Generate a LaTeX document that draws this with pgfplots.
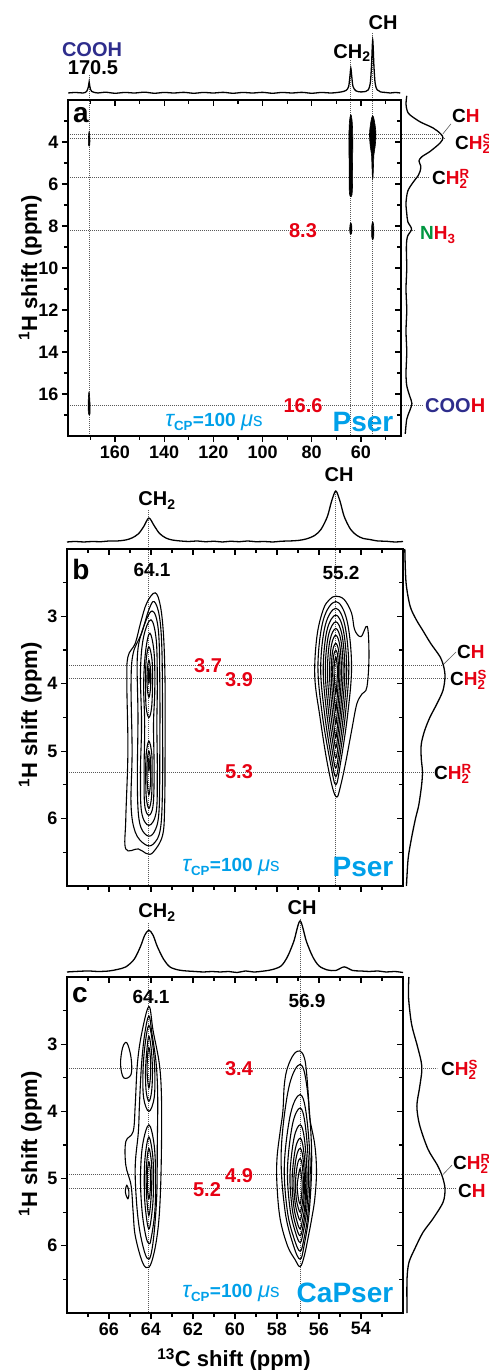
\documentclass[border=0pt]{standalone}
\usepackage{fontspec}
\setmainfont{Liberation Sans}
\usepackage{pgfplots}
\pgfplotsset{compat=1.18}

\definecolor{cred}{RGB}{230,0,18}
\definecolor{cnavy}{RGB}{46,45,140}
\definecolor{cgreen}{RGB}{0,150,64}
\definecolor{cblue}{RGB}{0,160,233}

\newcommand{\fa}{\fontsize{20}{22}\selectfont\bfseries}
\newcommand{\fn}{\fontsize{19}{21}\selectfont\bfseries}
\newcommand{\fbig}{\fontsize{28}{30}\selectfont\bfseries}
\newcommand{\fl}{\fontsize{22}{24}\selectfont\bfseries}
\newcommand{\R}[1]{\textcolor{cred}{#1}}
\newcommand{\tcp}{{\fontsize{23}{23}\selectfont\itshape\mdseries τ}\textsubscript{CP}=100 {\fontsize{22}{22}\selectfont\itshape\mdseries μ}{\mdseries s}}

\tikzset{guide/.style={black!65, line width=0.8pt, dash pattern=on 1pt off 1pt}}
\pgfplotsset{
  mainax/.style={anchor=south west, scale only axis, x dir=reverse, y dir=reverse, clip=false,
    axis line style={line width=1.5pt}, tick style={black, line width=1.2pt},
    major tick length=6pt, minor tick length=4pt,
    tick align=outside, xtick pos=left, ytick pos=left,
    ticklabel style={font=\fontsize{18}{18}\selectfont\bfseries},
    /pgf/number format/assume math mode=true},
  overax/.style={anchor=south west, scale only axis, x dir=reverse, y dir=reverse,
    axis line style={line width=1.5pt}, tick style={black, line width=1.2pt},
    major tick length=6pt, minor tick length=4pt,
    tick align=inside, xtick pos=right, ytick pos=right, xticklabels={}, yticklabels={}},
  projax/.style={anchor=south west, scale only axis, hide axis, clip=false},
  proj/.style={black, line width=1.3pt, smooth, tension=0.5},
  cont/.style={black, line width=1.1pt, smooth cycle, tension=0.6},
  blob/.style={black, fill=black, line width=0.6pt, smooth cycle, tension=0.6},
}

\begin{document}
\begin{tikzpicture}
\path[use as bounding box] (0,0) rectangle (489pt,1370pt);

% ================= panel a =================
\begin{axis}[mainax, at={(68pt,934pt)}, width=333pt, height=336pt,
  xmin=43.7, xmax=179.1, ymin=2, ymax=18,
  xtick={60,80,...,160}, minor xtick={50,70,...,170},
  ytick={4,6,...,16}, minor ytick={3,5,...,17}]
\draw[guide] (axis cs:170.5,0.81) -- (axis cs:170.5,18);
\draw[guide] (axis cs:64.1,0.1) -- (axis cs:64.1,18);
\draw[guide] (axis cs:55.2,-1.2) -- (axis cs:55.2,18);
\draw[guide] (axis cs:179.1,3.62) -- (axis cs:27.9,3.62);
\draw[guide] (axis cs:179.1,3.85) -- (axis cs:25.9,3.85);
\draw[guide] (axis cs:179.1,5.71) -- (axis cs:32,5.71);
\draw[guide] (axis cs:179.1,8.19) -- (axis cs:38,8.19);
\draw[guide] (axis cs:179.1,16.52) -- (axis cs:34.8,16.52);
\draw[black!65, line width=0.6pt] (axis cs:26.7,3.62) -- (axis cs:23.4,3.14);
\addplot[blob] coordinates {(64.1,2.7) (63.5,3.1) (63.3,4.0) (63.4,5.0) (63.4,6.0) (63.6,6.5) (64.1,6.6) (64.6,6.5) (64.8,6.0) (64.8,5.0) (64.9,4.0) (64.7,3.1)};
\addplot[blob] coordinates {(55.2,2.75) (54.5,3.0) (53.9,3.6) (54.2,4.2) (54.7,4.6) (54.9,5.2) (55.1,5.7) (55.3,5.7) (55.5,5.2) (55.7,4.6) (56.2,4.2) (56.5,3.6) (55.9,3.0)};
\addplot[blob] coordinates {(64.1,7.85) (63.7,8.0) (63.7,8.3) (64.1,8.4) (64.5,8.3) (64.5,8.0)};
\addplot[blob] coordinates {(55.2,7.8) (54.8,8.0) (54.8,8.5) (55.2,8.65) (55.6,8.5) (55.6,8.0)};
\addplot[blob] coordinates {(170.5,3.5) (170.2,3.8) (170.2,4.1) (170.5,4.2) (170.8,4.1) (170.8,3.8)};
\addplot[blob] coordinates {(170.5,15.9) (170.2,16.3) (170.1,16.8) (170.3,17.0) (170.8,16.9) (170.9,16.4) (170.7,16.0)};
\end{axis}
\begin{axis}[overax, at={(68pt,934pt)}, width=333pt, height=336pt,
  xmin=43.7, xmax=179.1, ymin=2, ymax=18,
  xtick={60,80,...,160}, minor xtick={50,70,...,170},
  ytick={4,6,...,16}, minor ytick={3,5,...,17}]
\end{axis}
\begin{axis}[projax, at={(68pt,1277pt)}, width=333pt, height=53pt,
  xmin=43.7, xmax=179.1, x dir=reverse, ymin=0, ymax=1]
\addplot[proj] coordinates {(179,0.0) (176,0.01) (173,0.0) (171.5,0.03) (170.8,0.12) (170.5,0.21) (170.2,0.12) (169.5,0.03) (167,0.0) (164,0.015) (160,-0.005) (156,0.01) (152,0.0) (148,0.015) (144,-0.005) (140,0.01) (136,0.0) (132,0.012) (128,-0.005) (124,0.01) (120,0.0) (116,0.012) (112,-0.005) (108,0.01) (104,0.0) (100,0.012) (96,-0.005) (92,0.01) (88,0.0) (84,0.012) (80,-0.005) (76,0.01) (72,0.0) (68,0.02) (66,0.05) (65,0.12) (64.5,0.3) (64.1,0.47) (63.7,0.3) (63.2,0.12) (62,0.04) (60,0.02) (58,0.03) (57,0.06) (56.2,0.18) (55.7,0.5) (55.2,1.0) (54.7,0.5) (54.2,0.18) (53.4,0.06) (52,0.02) (50,0.01) (48,0.0) (46,0.01) (44,0.0)};
\end{axis}
\begin{axis}[projax, at={(406pt,934pt)}, width=37pt, height=336pt,
  xmin=0, xmax=1, ymin=2, ymax=18, y dir=reverse]
\addplot[proj] coordinates {(0.02,1.8) (0.0,2.2) (0.03,2.5) (0.1,2.7) (0.38,3.04) (0.73,3.33) (0.93,3.6) (1.0,3.8) (0.92,4.05) (0.65,4.45) (0.43,4.7) (0.35,4.9) (0.4,5.15) (0.38,5.4) (0.33,5.6) (0.2,5.9) (0.05,6.33) (0.0,6.9) (0.02,7.4) (0.05,7.8) (0.15,8.15) (0.04,8.5) (0.01,9.0) (0.02,10) (0.0,11) (0.02,12) (0.0,13) (0.02,14) (0.0,15) (0.02,15.6) (0.1,16.1) (0.16,16.45) (0.1,16.8) (0.02,17.2) (-0.02,17.9)};
\end{axis}

% ================= panel b =================
\begin{axis}[mainax, at={(67pt,484pt)}, width=336pt, height=337pt,
  xmin=52, xmax=68, ymin=2, ymax=7, xticklabels={},
  xtick={54,56,...,66}, minor xtick={53,55,...,67},
  ytick={3,4,5,6}, minor ytick={2.5,3.5,...,6.5}]
\draw[guide] (axis cs:64.1,1.42) -- (axis cs:64.1,7);
\draw[guide] (axis cs:55.2,1.15) -- (axis cs:55.2,7);
\draw[guide] (axis cs:68,3.72) -- (axis cs:50.1,3.72);
\draw[guide] (axis cs:68,3.92) -- (axis cs:49.86,3.92);
\draw[guide] (axis cs:68,5.31) -- (axis cs:50.57,5.31);
\draw[black!65, line width=0.6pt] (axis cs:50.1,3.72) -- (axis cs:49.48,3.53);
% CH2
\addplot[cont] coordinates {(63.8,2.65) (63.55,2.85) (63.4,3.3) (63.33,4.0) (63.33,5.0) (63.35,5.8) (63.45,6.25) (63.9,6.5) (64.2,6.52) (64.6,6.45) (65.2,6.45) (65.2,6.0) (65.1,5.0) (65.15,4.0) (65.1,3.6) (64.75,3.4) (64.5,3.1) (64.2,2.8)};
\addplot[cont] coordinates {(63.85,2.78) (63.6,3.0) (63.48,3.5) (63.45,4.5) (63.45,5.5) (63.55,6.15) (63.9,6.38) (64.3,6.38) (64.75,6.2) (64.95,5.8) (64.9,5.0) (64.95,4.0) (64.85,3.55) (64.45,3.25) (64.1,2.9)};
\addplot[cont] coordinates {(63.95,2.92) (63.65,3.2) (63.58,4.0) (63.58,5.0) (63.62,5.9) (63.85,6.2) (64.2,6.25) (64.55,6.05) (64.65,5.5) (64.62,4.5) (64.65,3.6) (64.4,3.2)};
\addplot[cont] coordinates {(64.0,3.05) (63.75,3.35) (63.7,4.0) (63.72,4.6) (63.7,5.3) (63.75,5.9) (64.1,6.1) (64.45,5.9) (64.5,5.3) (64.45,4.6) (64.5,3.8) (64.35,3.3)};
\addplot[cont] coordinates {(64.05,3.25) (63.85,3.55) (63.82,4.1) (63.88,4.6) (63.85,5.3) (63.9,5.8) (64.1,5.95) (64.3,5.8) (64.33,5.3) (64.3,4.6) (64.35,4.0) (64.25,3.5)};
\addplot[cont] coordinates {(64.1,3.45) (63.95,3.65) (63.93,4.0) (63.97,4.35) (64.1,4.5) (64.23,4.35) (64.26,4.0) (64.23,3.65)};
\addplot[cont] coordinates {(64.1,3.65) (64.02,3.8) (64.02,4.05) (64.1,4.2) (64.18,4.05) (64.18,3.8)};
\addplot[blob] coordinates {(64.1,3.76) (64.05,3.88) (64.1,4.0) (64.15,3.88)};
\addplot[cont] coordinates {(64.1,4.85) (63.96,5.05) (63.95,5.4) (63.98,5.7) (64.1,5.85) (64.22,5.7) (64.25,5.4) (64.23,5.05)};
\addplot[cont] coordinates {(64.1,5.0) (64.02,5.15) (64.02,5.45) (64.1,5.65) (64.18,5.45) (64.18,5.15)};
\addplot[blob] coordinates {(64.1,5.1) (64.06,5.2) (64.1,5.3) (64.14,5.2)};
% CH
\addplot[cont] coordinates {(55.2,2.7) (54.8,2.75) (54.45,2.95) (54.3,3.2) (54.0,3.3) (53.7,3.15) (53.62,3.6) (53.72,4.05) (53.95,4.15) (54.2,4.3) (54.45,4.7) (54.75,5.2) (55.0,5.55) (55.15,5.68) (55.35,5.55) (55.65,5.1) (55.95,4.5) (56.2,3.9) (56.1,3.3) (55.8,2.9) (55.5,2.75)};
\addplot[cont] coordinates {(55.2,2.78) (54.675,3.052) (54.45,3.732) (54.64,4.466) (54.975,5.174) (55.2,5.5) (55.455,5.174) (55.84,4.466) (56.05,3.732) (55.795,3.052)};
\addplot[cont] coordinates {(55.2,2.88) (54.77,3.13) (54.58,3.755) (54.735,4.43) (55.01,5.08) (55.2,5.38) (55.42,5.08) (55.74,4.43) (55.92,3.755) (55.70,3.13)};
\addplot[cont] coordinates {(55.2,2.98) (54.84,3.207) (54.68,3.775) (54.81,4.387) (55.04,4.978) (55.2,5.25) (55.38,4.978) (55.65,4.387) (55.8,3.775) (55.62,3.207)};
\addplot[cont] coordinates {(55.2,3.08) (54.9,3.282) (54.77,3.787) (54.88,4.332) (55.07,4.858) (55.2,5.1) (55.35,4.858) (55.575,4.332) (55.7,3.787) (55.55,3.282)};
\addplot[cont] coordinates {(55.2,3.18) (54.955,3.357) (54.85,3.80) (54.94,4.277) (55.095,4.738) (55.2,4.95) (55.32,4.738) (55.5,4.277) (55.6,3.80) (55.48,3.357)};
\addplot[cont] coordinates {(55.2,3.28) (55.01,3.432) (54.93,3.812) (55.0,4.222) (55.12,4.618) (55.2,4.8) (55.29,4.618) (55.425,4.222) (55.5,3.812) (55.41,3.432)};
\addplot[cont] coordinates {(55.2,3.4) (55.06,3.52) (55.0,3.82) (55.05,4.144) (55.14,4.456) (55.2,4.6) (55.266,4.456) (55.365,4.144) (55.42,3.82) (55.354,3.52)};
\addplot[cont] coordinates {(55.2,3.5) (55.109,3.59) (55.07,3.815) (55.1,4.058) (55.16,4.292) (55.2,4.4) (55.245,4.292) (55.31,4.058) (55.35,3.815) (55.305,3.59)};
\addplot[cont] coordinates {(55.2,3.6) (55.13,3.75) (55.14,3.95) (55.2,4.15) (55.26,3.95) (55.28,3.75)};
\end{axis}
\begin{axis}[overax, at={(67pt,484pt)}, width=336pt, height=337pt,
  xmin=52, xmax=68, ymin=2, ymax=7,
  xtick={54,56,...,66}, minor xtick={53,55,...,67},
  ytick={3,4,5,6}, minor ytick={2.5,3.5,...,6.5}]
\end{axis}
\begin{axis}[projax, at={(67pt,828pt)}, width=336pt, height=51pt,
  xmin=52, xmax=68, x dir=reverse, ymin=0, ymax=1]
\addplot[proj] coordinates {(68,0.0) (67.6,0.01) (67.2,0.0) (66.8,0.01) (66.4,0.005) (66,0.02) (65.6,0.02) (65.2,0.04) (64.9,0.08) (64.6,0.16) (64.35,0.3) (64.1,0.47) (63.85,0.32) (63.6,0.17) (63.3,0.08) (63,0.04) (62.6,0.02) (62.2,0.01) (61.8,0.02) (61.4,0.005) (61,0.015) (60.6,0.0) (60.2,0.015) (59.8,0.005) (59.4,0.02) (59,0.005) (58.6,0.01) (58.2,0.0) (57.8,0.015) (57.4,0.02) (57,0.03) (56.6,0.06) (56.2,0.13) (55.9,0.25) (55.6,0.5) (55.4,0.8) (55.2,1.0) (55.0,0.8) (54.8,0.5) (54.5,0.25) (54.2,0.13) (53.9,0.07) (53.6,0.05) (53.2,0.02) (52.8,0.015) (52.4,0.0) (52,0.01)};
\end{axis}
\begin{axis}[projax, at={(404pt,484pt)}, width=41pt, height=337pt,
  xmin=0, xmax=1, ymin=2, ymax=7, y dir=reverse]
\addplot[proj] coordinates {(0.02,2.0) (0.05,2.5) (0.15,2.85) (0.3,3.05) (0.45,3.2) (0.65,3.4) (0.88,3.6) (0.97,3.75) (1.0,3.9) (0.95,4.1) (0.8,4.3) (0.63,4.5) (0.5,4.7) (0.42,4.9) (0.42,5.1) (0.45,5.3) (0.43,5.5) (0.36,5.8) (0.28,6.0) (0.18,6.3) (0.1,6.6) (0.06,7.0)};
\end{axis}

% ================= panel c =================
\begin{axis}[mainax, at={(67pt,57pt)}, width=336pt, height=336pt,
  xmin=52, xmax=68, ymin=2, ymax=7,
  xtick={54,56,...,66}, minor xtick={53,55,...,67},
  ytick={3,4,5,6}, minor ytick={2.5,3.5,...,6.5}]
\draw[guide] (axis cs:64.1,1.2) -- (axis cs:64.1,7);
\draw[guide] (axis cs:56.9,1.13) -- (axis cs:56.9,7);
\draw[guide] (axis cs:68,3.36) -- (axis cs:50.38,3.36);
\draw[guide] (axis cs:68,4.94) -- (axis cs:50.1,4.94);
\draw[guide] (axis cs:68,5.14) -- (axis cs:49.52,5.14);
\draw[black!65, line width=0.6pt] (axis cs:50.1,4.94) -- (axis cs:49.67,4.8);
% CH2
\addplot[cont] coordinates {(64.1,2.44) (63.9,2.8) (63.6,3.3) (63.5,3.8) (63.5,4.5) (63.55,5.2) (63.65,5.7) (63.85,6.1) (64.1,6.32) (64.4,6.25) (64.75,5.85) (64.85,5.5) (64.95,5.1) (65.2,4.8) (65.2,4.45) (64.85,4.3) (64.75,3.9) (64.65,3.3) (64.45,2.85)};
\addplot[cont] coordinates {(64.1,2.58) (63.95,2.85) (63.75,3.3) (63.68,3.8) (63.7,4.5) (63.72,5.2) (63.82,5.7) (63.95,6.05) (64.1,6.2) (64.3,6.1) (64.55,5.75) (64.7,5.3) (64.75,4.8) (64.6,4.3) (64.55,3.9) (64.45,3.3) (64.3,2.85)};
\addplot[cont] coordinates {(64.1,2.72) (63.92,3.0) (63.82,3.4) (63.85,3.8) (64.1,4.0) (64.35,3.8) (64.38,3.4) (64.28,3.0)};
\addplot[cont] coordinates {(64.1,2.88) (63.98,3.1) (63.93,3.4) (63.97,3.7) (64.1,3.85) (64.23,3.7) (64.26,3.4) (64.2,3.1)};
\addplot[cont] coordinates {(64.1,3.05) (64.03,3.2) (64.02,3.45) (64.1,3.65) (64.18,3.45) (64.17,3.2)};
\addplot[cont] coordinates {(64.1,4.2) (63.85,4.5) (63.78,5.0) (63.82,5.5) (64.0,5.9) (64.1,5.97) (64.25,5.85) (64.42,5.5) (64.5,5.0) (64.4,4.5)};
\addplot[cont] coordinates {(64.1,4.38) (63.92,4.65) (63.88,5.0) (63.92,5.4) (64.1,5.75) (64.28,5.4) (64.32,5.0) (64.27,4.65)};
\addplot[cont] coordinates {(64.1,4.55) (63.98,4.75) (63.96,5.0) (64.0,5.3) (64.1,5.55) (64.2,5.3) (64.23,5.0) (64.2,4.75)};
\addplot[cont] coordinates {(64.1,4.75) (64.03,4.9) (64.03,5.15) (64.1,5.3) (64.17,5.15) (64.17,4.9)};
\addplot[cont] coordinates {(65.15,2.98) (65.35,3.05) (65.45,3.3) (65.3,3.5) (64.95,3.45) (64.95,3.2)};
\addplot[cont] coordinates {(65.15,5.1) (65.05,5.2) (65.1,5.3) (65.22,5.2)};
% CH
\addplot[cont] coordinates {(56.9,3.1) (56.7,3.2) (56.6,3.4) (56.5,3.8) (56.44,4.1) (56.2,4.5) (56.12,4.9) (56.2,5.3) (56.35,5.6) (56.5,5.85) (56.7,6.15) (56.9,6.31) (57.15,6.2) (57.5,6.0) (57.85,5.6) (58.0,5.1) (58.0,4.7) (57.85,4.3) (57.72,4.0) (57.65,3.6) (57.5,3.35) (57.2,3.15)};
\addplot[cont] coordinates {(56.9,3.3) (56.57,3.648) (56.35,4.605) (56.46,5.475) (56.71,5.997) (56.9,6.2) (57.215,5.997) (57.62,5.475) (57.8,4.605) (57.44,3.648)};
\addplot[cont] coordinates {(56.9,3.75) (56.61,4.03) (56.42,4.799) (56.52,5.498) (56.73,5.917) (56.9,6.08) (57.16,5.917) (57.5,5.498) (57.65,4.799) (57.35,4.03)};
\addplot[cont] coordinates {(56.9,3.95) (56.66,4.19) (56.5,4.85) (56.58,5.45) (56.76,5.81) (56.9,5.95) (57.11,5.81) (57.38,5.45) (57.5,4.85) (57.26,4.19)};
\addplot[cont] coordinates {(56.9,4.2) (56.70,4.398) (56.57,4.943) (56.64,5.438) (56.78,5.735) (56.9,5.85) (57.07,5.735) (57.28,5.438) (57.38,4.943) (57.19,4.398)};
\addplot[cont] coordinates {(56.9,4.4) (56.74,4.562) (56.63,5.008) (56.68,5.413) (56.81,5.656) (56.9,5.75) (57.03,5.656) (57.2,5.413) (57.28,5.008) (57.13,4.562)};
\addplot[cont] coordinates {(56.9,4.55) (56.77,4.678) (56.69,5.032) (56.73,5.353) (56.83,5.545) (56.9,5.62) (57.005,5.545) (57.14,5.353) (57.2,5.032) (57.08,4.678)};
\addplot[cont] coordinates {(56.9,4.7) (56.8,4.796) (56.74,5.06) (56.77,5.3) (56.84,5.444) (56.9,5.5) (56.98,5.444) (57.08,5.3) (57.12,5.06) (57.03,4.796)};
\addplot[cont] coordinates {(56.9,4.85) (56.82,5.0) (56.8,5.12) (56.85,5.3) (56.9,5.38) (56.98,5.3) (57.04,5.12) (57.0,5.0)};
\end{axis}
\begin{axis}[overax, at={(67pt,57pt)}, width=336pt, height=336pt,
  xmin=52, xmax=68, ymin=2, ymax=7,
  xtick={54,56,...,66}, minor xtick={53,55,...,67},
  ytick={3,4,5,6}, minor ytick={2.5,3.5,...,6.5}]
\end{axis}
\begin{axis}[projax, at={(67pt,398pt)}, width=336pt, height=51pt,
  xmin=52, xmax=68, x dir=reverse, ymin=0, ymax=1]
\addplot[proj] coordinates {(68,0.0) (67.6,0.01) (67,0.02) (66.5,0.01) (66,0.02) (65.6,0.05) (65.2,0.1) (64.8,0.25) (64.5,0.5) (64.3,0.72) (64.1,0.82) (63.9,0.72) (63.7,0.5) (63.4,0.25) (63.1,0.1) (62.7,0.04) (62.3,0.02) (61.9,0.01) (61.5,0.0) (61.1,0.01) (60.7,0.0) (60.3,0.01) (59.9,-0.01) (59.5,0.02) (59.1,0.0) (58.6,0.02) (58.2,0.05) (57.8,0.12) (57.5,0.3) (57.2,0.6) (56.9,1.0) (56.6,0.6) (56.3,0.3) (56,0.12) (55.6,0.04) (55.2,0.03) (54.8,0.1) (54.4,0.03) (54,0.02) (53.6,0.01) (53.2,0.02) (52.8,0.0) (52.4,0.01) (52,-0.01)};
\end{axis}
\begin{axis}[projax, at={(407pt,57pt)}, width=38pt, height=336pt,
  xmin=0, xmax=1, ymin=2, ymax=7, y dir=reverse]
\addplot[proj] coordinates {(0.05,2.0) (0.04,2.3) (0.12,2.7) (0.26,3.0) (0.37,3.25) (0.39,3.4) (0.33,3.65) (0.26,3.92) (0.33,4.2) (0.55,4.56) (0.8,4.8) (0.93,4.97) (1.0,5.15) (0.95,5.35) (0.68,5.6) (0.42,5.8) (0.2,6.05) (0.05,6.25) (0.0,6.5) (0.0,7.0)};
\end{axis}

% ================= labels =================
\begin{scope}[x=1pt, y=-1pt, yshift=1370pt]
% panel a
\node[anchor=base, font=\fa, text=cnavy] at (92,57) {COOH};
\node[anchor=base, font=\fa] at (93,75) {170.5};
\node[anchor=base, font=\fa] at (352,58.5) {CH\textsubscript{2}};
\node[anchor=base, font=\fa] at (383,30) {CH};
\node[anchor=base, font=\fbig] at (81,123) {a};
\node[anchor=base, font=\fa, text=cred] at (303,238) {8.3};
\node[anchor=base, font=\fa, text=cred] at (303,413) {16.6};
\node[anchor=base, font=\fn, text=cblue] at (214,427) {\tcp};
\node[anchor=base, font=\fbig, text=cblue] at (363,432) {Pser};
\node[anchor=base west, font=\fn, inner sep=0pt] at (452,123) {C\R{H}};
\node[anchor=base west, font=\fn, inner sep=0pt] at (455,150) {C\R{H\rlap{\textsuperscript{S}}\textsubscript{2}}};
\node[anchor=base west, font=\fn, inner sep=0pt] at (432,185) {C\R{H\rlap{\textsuperscript{R}}\textsubscript{2}}};
\node[anchor=base west, font=\fn, inner sep=0pt] at (420,240) {\textcolor{cgreen}{N}\R{H\textsubscript{3}}};
\node[anchor=base west, font=\fa, inner sep=0pt] at (425,413) {\textcolor{cnavy}{COO}\R{H}};
\node[anchor=base, rotate=90, font=\fl] at (37,268) {\textsuperscript{1}H shift (ppm)};
% panel b
\node[anchor=base, font=\fa] at (157,506) {CH\textsubscript{2}};
\node[anchor=base, font=\fa] at (339,482) {CH};
\node[anchor=base, font=\fbig] at (81,580) {b};
\node[anchor=base, font=\fn] at (152,577) {64.1};
\node[anchor=base, font=\fn] at (341,580) {55.2};
\node[anchor=base, font=\fa, text=cred] at (208,673) {3.7};
\node[anchor=base, font=\fa, text=cred] at (239,687) {3.9};
\node[anchor=base, font=\fa, text=cred] at (239,779) {5.3};
\node[anchor=base west, font=\fn, inner sep=0pt] at (457,659) {C\R{H}};
\node[anchor=base west, font=\fn, inner sep=0pt] at (450,686) {C\R{H\rlap{\textsuperscript{S}}\textsubscript{2}}};
\node[anchor=base west, font=\fn, inner sep=0pt] at (434,780) {C\R{H\rlap{\textsuperscript{R}}\textsubscript{2}}};
\node[anchor=base, font=\fn, text=cblue] at (231,872) {\tcp};
\node[anchor=base, font=\fbig, text=cblue] at (363,877) {Pser};
\node[anchor=base, rotate=90, font=\fl] at (37,715) {\textsuperscript{1}H shift (ppm)};
% panel c
\node[anchor=base, font=\fa] at (157,918) {CH\textsubscript{2}};
\node[anchor=base, font=\fa] at (302,915) {CH};
\node[anchor=base, font=\fbig] at (80,1003) {c};
\node[anchor=base, font=\fn] at (151,1004) {64.1};
\node[anchor=base, font=\fn] at (307,1008) {56.9};
\node[anchor=base, font=\fa, text=cred] at (239,1076) {3.4};
\node[anchor=base, font=\fa, text=cred] at (239,1183) {4.9};
\node[anchor=base, font=\fa, text=cred] at (207,1197) {5.2};
\node[anchor=base west, font=\fn, inner sep=0pt] at (441,1076) {C\R{H\rlap{\textsuperscript{S}}\textsubscript{2}}};
\node[anchor=base west, font=\fn, inner sep=0pt] at (453,1170) {C\R{H\rlap{\textsuperscript{R}}\textsubscript{2}}};
\node[anchor=base west, font=\fn, inner sep=0pt] at (458,1198) {C\R{H}};
\node[anchor=base, font=\fn, text=cblue] at (231,1298) {\tcp};
\node[anchor=base, font=\fbig, text=cblue] at (345,1303) {CaPser};
\node[anchor=base, rotate=90, font=\fl] at (37,1144) {\textsuperscript{1}H shift (ppm)};
\node[anchor=base, font=\fl] at (234,1367) {\textsuperscript{13}C shift (ppm)};
\end{scope}
\end{tikzpicture}
\end{document}
